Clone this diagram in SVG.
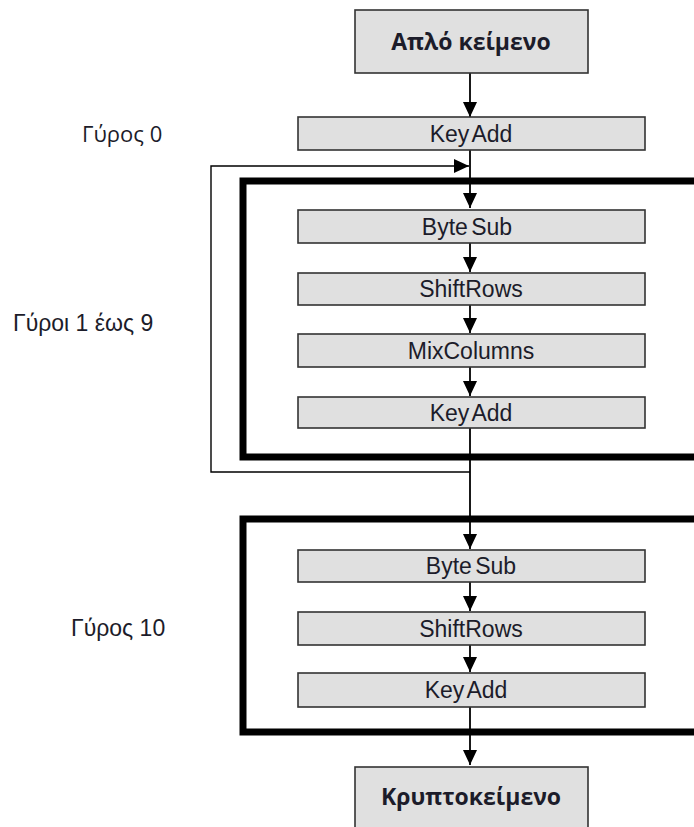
<svg xmlns="http://www.w3.org/2000/svg" width="694" height="827" viewBox="0 0 694 827">
<style>
.box{fill:#e0e0e0;stroke:#333;stroke-width:1.6}
.lbl{font-family:"Liberation Sans",Arial,sans-serif;font-size:23px;fill:#1c1c2a;text-anchor:middle;word-spacing:-3px}
.big{font-family:"Open Sans","DejaVu Sans",sans-serif;font-size:23px;font-weight:bold;fill:#1c1c2a;text-anchor:middle}
.side{font-family:"Liberation Sans",Arial,sans-serif;font-size:23px;fill:#1c1c2a}
.side2{font-family:"Open Sans",sans-serif;font-size:22px;fill:#1c1c2a}
.frame{fill:none;stroke:#000;stroke-width:7}
.con{fill:none;stroke:#000;stroke-width:1.8}
.thin{fill:none;stroke:#000;stroke-width:1.4}
</style>
<defs>
<marker id="ah" markerUnits="userSpaceOnUse" markerWidth="15" markerHeight="14" refX="15" refY="7" orient="auto">
<path d="M0,0 L15,7 L0,14 z" fill="#000"/>
</marker>
</defs>
<g id="frames">
<path class="frame" d="M700,181 H243 V457 H700"/>
<path class="frame" d="M700,519 H243 V732 H700"/>
</g>
<g id="labels">
<text class="side2" x="82" y="142">Γύρος 0</text>
<text class="side" x="13" y="331">Γύροι 1 έως 9</text>
<text class="side" x="71" y="636">Γύρος 10</text>
</g>
<g id="connectors">
<path class="con" d="M470,73 V117" marker-end="url(#ah)"/>
<path class="con" d="M470,150 V208" marker-end="url(#ah)"/>
<path class="con" d="M470,243 V272" marker-end="url(#ah)"/>
<path class="con" d="M470,305 V333" marker-end="url(#ah)"/>
<path class="con" d="M470,367 V396" marker-end="url(#ah)"/>
<path class="con" d="M470,428 V549" marker-end="url(#ah)"/>
<path class="thin" d="M470,472 H211 V166 H469" marker-end="url(#ah)"/>
<path class="con" d="M470,582 V611" marker-end="url(#ah)"/>
<path class="con" d="M470,645 V672" marker-end="url(#ah)"/>
<path class="con" d="M470,707 V765" marker-end="url(#ah)"/>
</g>
<g id="plaintext">
<rect class="box" x="355" y="10" width="233" height="63"/>
<text class="big" x="471" y="50">Απλό κείμενο</text>
</g>
<g id="keyadd0">
<rect class="box" x="298" y="117" width="347" height="33"/>
<text class="lbl" x="471" y="142">Key Add</text>
</g>
<g id="bytesub1">
<rect class="box" x="298" y="210" width="347" height="33"/>
<text class="lbl" x="467" y="235">Byte Sub</text>
</g>
<g id="shiftrows1">
<rect class="box" x="298" y="273" width="347" height="32"/>
<text class="lbl" x="471" y="297">ShiftRows</text>
</g>
<g id="mixcolumns1">
<rect class="box" x="298" y="334" width="347" height="33"/>
<text class="lbl" x="471" y="359">MixColumns</text>
</g>
<g id="keyadd1">
<rect class="box" x="298" y="397" width="347" height="31"/>
<text class="lbl" x="471" y="421">Key Add</text>
</g>
<g id="bytesub10">
<rect class="box" x="298" y="550" width="347" height="32"/>
<text class="lbl" x="471" y="574">Byte Sub</text>
</g>
<g id="shiftrows10">
<rect class="box" x="298" y="612" width="347" height="33"/>
<text class="lbl" x="471" y="637">ShiftRows</text>
</g>
<g id="keyadd10">
<rect class="box" x="298" y="673" width="347" height="34"/>
<text class="lbl" x="466" y="698">Key Add</text>
</g>
<g id="ciphertext">
<rect class="box" x="355" y="767" width="233" height="70"/>
<text class="big" x="471" y="805">Κρυπτοκείμενο</text>
</g>
</svg>
